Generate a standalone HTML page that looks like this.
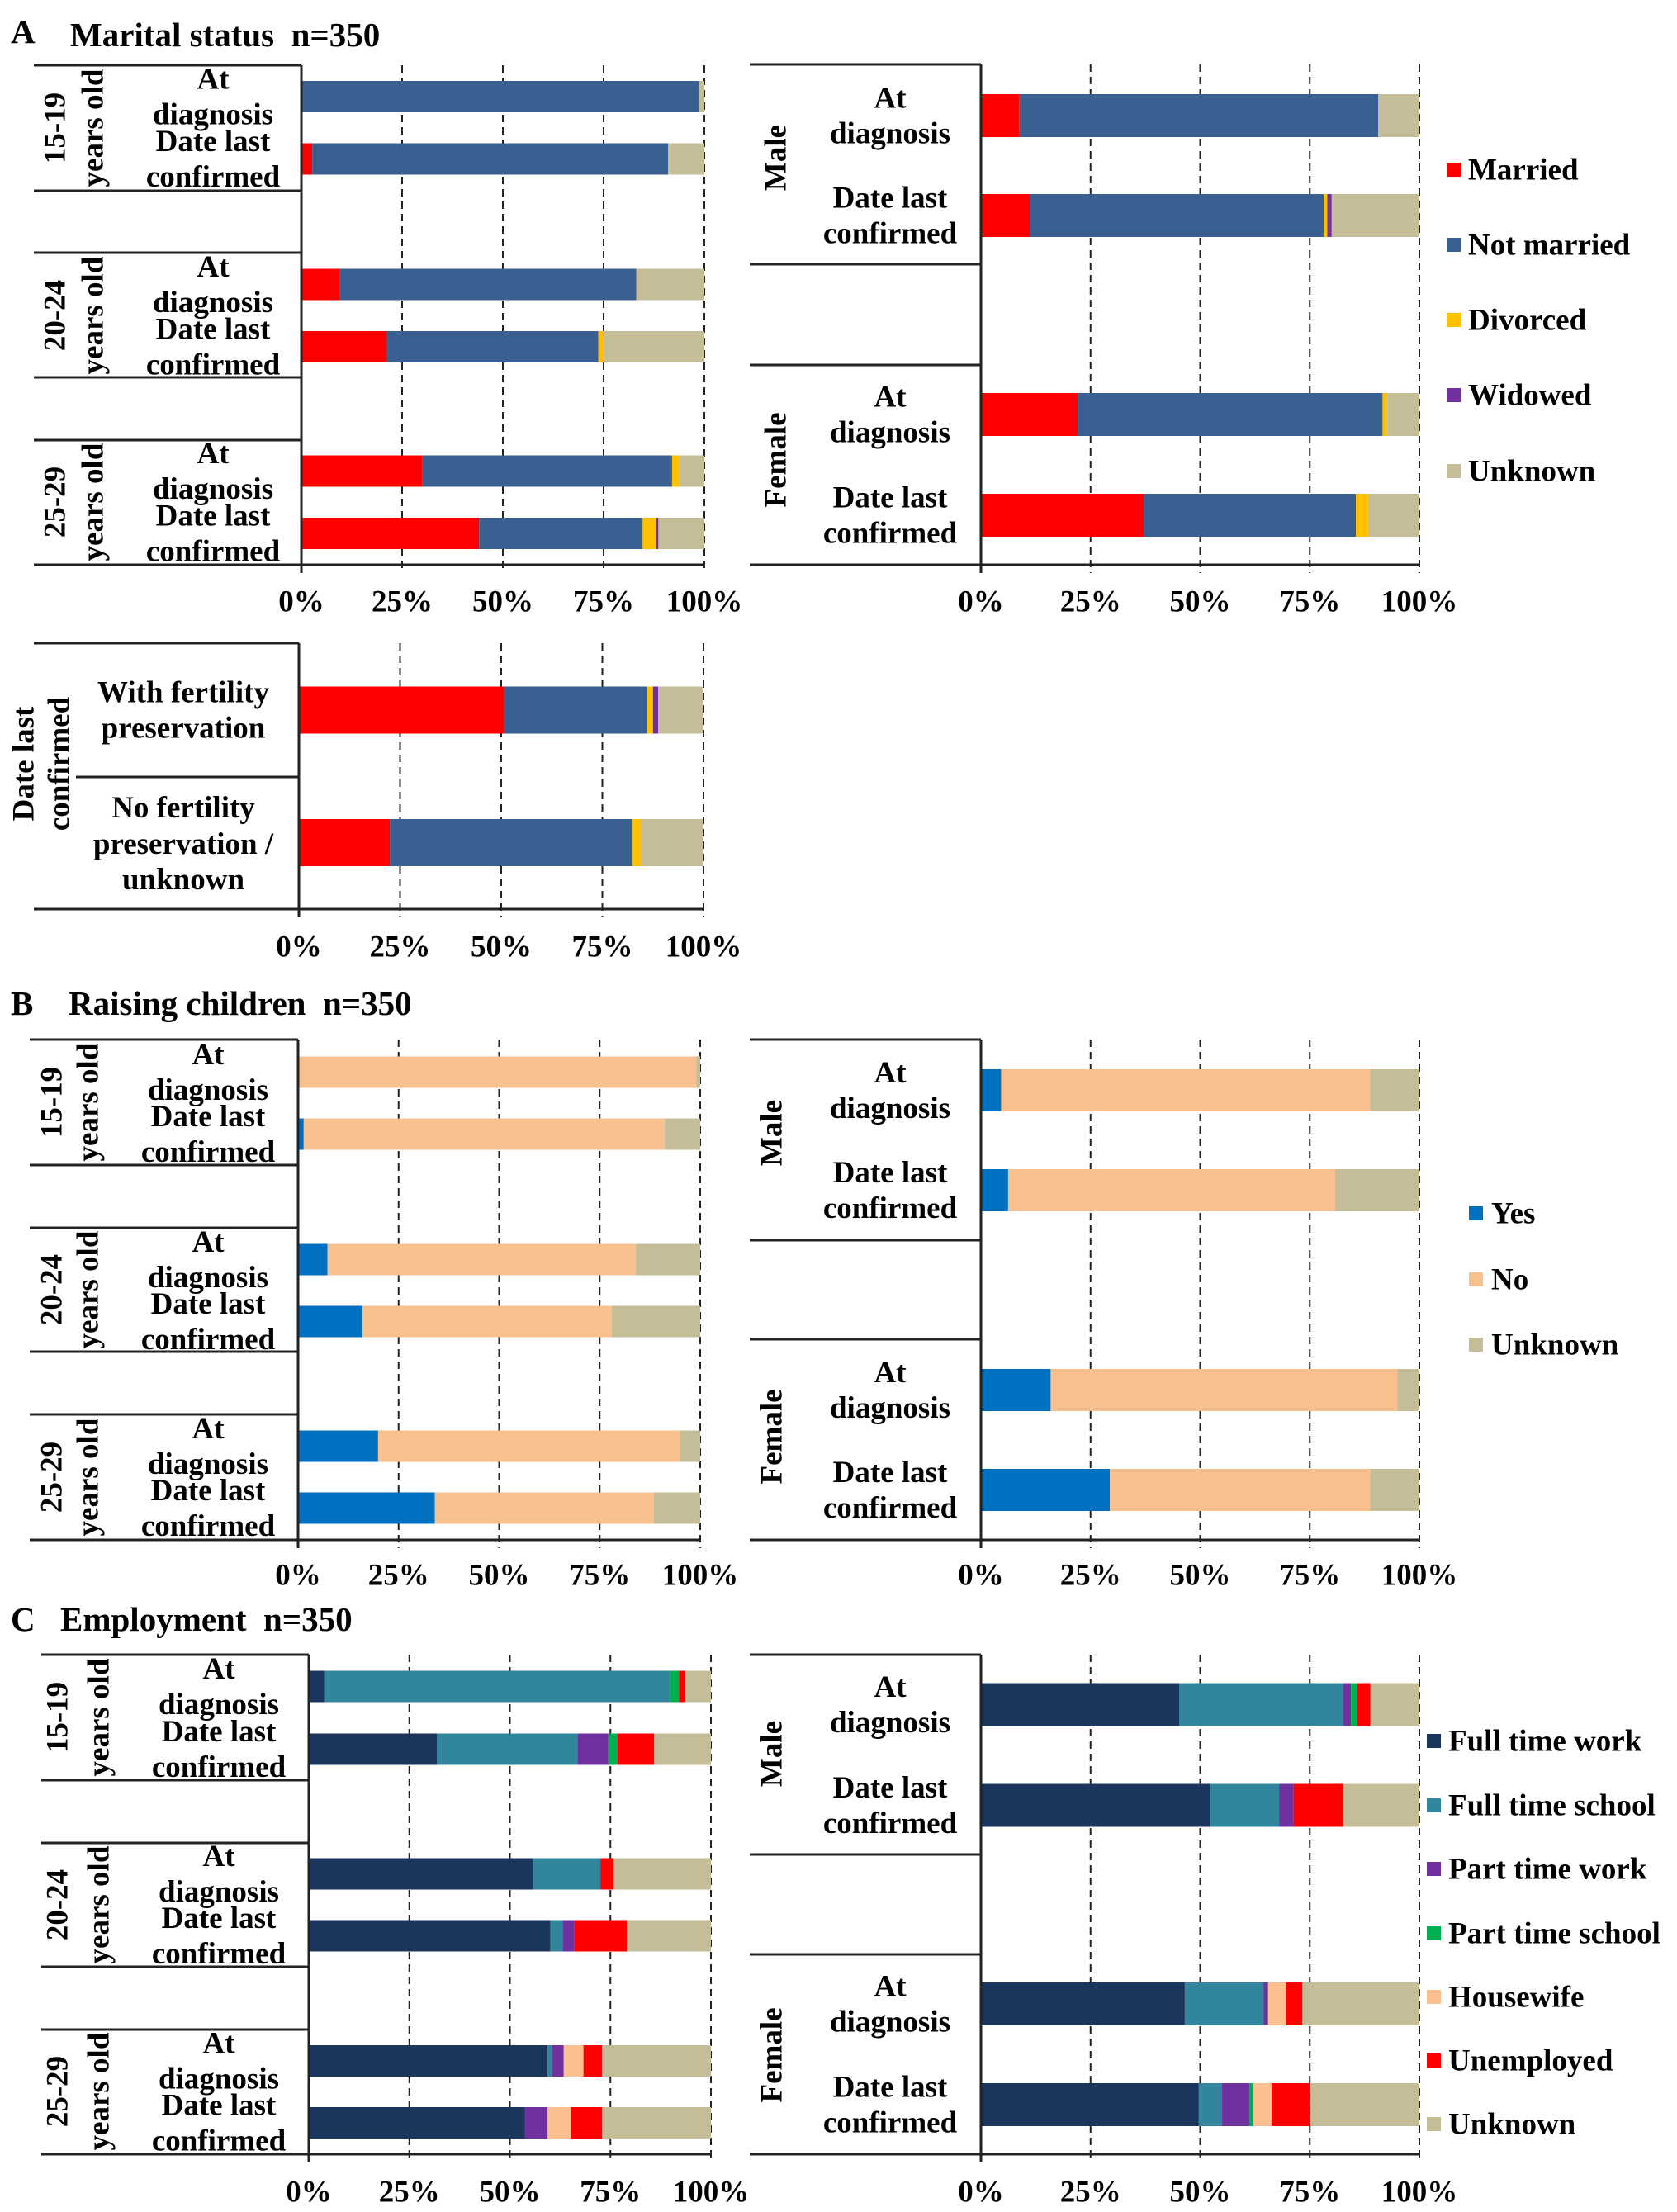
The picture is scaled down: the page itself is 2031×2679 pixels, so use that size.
<!DOCTYPE html>
<html><head><meta charset="utf-8">
<style>
html,body{margin:0;padding:0;background:#fff;}
svg{display:block;font-family:"Liberation Serif",serif;font-weight:bold;}
</style></head>
<body>
<svg id="fig" width="2031" height="2679" viewBox="0 0 2031 2679" xmlns="http://www.w3.org/2000/svg">
<rect x="0" y="0" width="2031" height="2679" fill="#fff"/>
<g font-size="41" fill="#000">
<text x="13" y="52">A</text>
<text x="85" y="56" xml:space="preserve">Marital status  n=350</text>
<text x="13" y="1229">B</text>
<text x="83" y="1229" xml:space="preserve">Raising children  n=350</text>
<text x="13" y="1975">C</text>
<text x="73" y="1975" xml:space="preserve">Employment  n=350</text>
</g>
</svg>
<script>
// ---------- data ----------
const maritalCats = ['Married','Not married','Divorced','Widowed','Unknown'];
const maritalColors = ['#FF0000','#3A5F91','#FFC000','#7030A0','#C4BD97'];
const childCats = ['Yes','No','Unknown'];
const childColors = ['#0070C0','#F9C08F','#C4BD97'];
const empCats = ['Full time work','Full time school','Part time work','Part time school','Housewife','Unemployed','Unknown'];
const empColors = ['#1B365D','#31859C','#7030A0','#00B050','#FAC090','#FF0000','#C4BD97'];
const tickLabels = ['0%','25%','50%','75%','100%'];
const tickValues = [0,25,50,75,100];

const maritalAge = [
  [0,98.7,0,0,1.3],[2.7,88.3,0,0,9],
  [9.6,73.5,0,0,16.9],[21.2,52.5,1.3,0,25],
  [30,62,1.8,0,6.2],[44.1,40.6,3.4,0.5,11.4]];
const maritalSex = [
  [8.8,81.8,0,0,9.4],[11.3,66.9,0.8,1,20],
  [22.2,69.4,1.1,0,7.3],[37.2,48.3,2.8,0,11.7]];
const maritalFert = [
  [50.7,35.3,1.5,1.3,11.2],[22.5,60,2.1,0,15.4]];
const childAge = [
  [0,99,1],[1.4,89.7,8.9],
  [7.3,76.7,16],[16,62,22],
  [19.9,75.1,5],[34,54.5,11.5]];
const childSex = [
  [4.6,84.2,11.2],[6.2,74.6,19.2],
  [15.9,79.1,5],[29.4,59.4,11.2]];
const empAge = [
  [3.8,86.1,0,2.2,0,1.5,6.4],[31.9,34.9,7.7,2.3,0,9.1,14.1],
  [55.8,16.7,0,0,0,3.3,24.2],[60.1,3,3,0,0,13,20.9],
  [59.4,1.1,2.9,0,4.9,4.6,27.1],[53.7,0,5.7,0,5.7,7.8,27.1]];
const empSex = [
  [45.2,37.4,1.8,1.4,0,3,11.2],[52.2,15.8,3.3,0,0,11.3,17.4],
  [46.5,18,1,0,4,3.8,26.7],[49.7,5.3,6.2,0.8,4.3,8.8,24.9]];

// ---------- layout ----------
const NS='http://www.w3.org/2000/svg';
const svg=document.getElementById('fig');
function el(tag,attrs,parent){const e=document.createElementNS(NS,tag);for(const k in attrs)e.setAttribute(k,attrs[k]);(parent||svg).appendChild(e);return e;}
function txt(s,x,y,attrs,parent){const t=el('text',Object.assign({x:x,y:y,'font-size':37,'text-anchor':'middle','dominant-baseline':'central'},attrs||{}),parent);t.textContent=s;return t;}

const ageRowLabels=[['At','diagnosis'],['Date last','confirmed']];
const sideRowLabels=[['At','diagnosis'],['Date last','confirmed']];

function panel(p){
  const g=el('g',{});
  
  
  const xs=v=>p.x0+(p.x1-p.x0)*v/100;
  tickValues.forEach((v,i)=>{
    if(v===0)return;
    const l=el('line',{x1:xs(v),x2:xs(v),y1:p.top,y2:p.bottom+10,stroke:'#222','stroke-width':2,'stroke-dasharray':'9,6'},g);
    
    
  });
  p.data.forEach((row,i)=>{
    let acc=0;const yc=p.centers[i];
    row.forEach((v,j)=>{
      if(v>0){
        const r=el('rect',{x:xs(acc),y:yc-p.bh/2,width:xs(acc+v)-xs(acc),height:p.bh,fill:p.colors[j]},g);
        
        
      }
      acc+=v;
    });
    const lab=p.rowLabels[i%2];
    if(lab.length===3){
      txt(lab[0],p.labX,yc-42,{},g);
      txt(lab[1],p.labX,yc+2,{},g);
      txt(lab[2],p.labX,yc+45,{},g);
    } else {
      txt(lab[0],p.labX,yc-21,{},g);
      txt(lab[1],p.labX,yc+22,{},g);
    }
  });
  el('line',{x1:p.x0,x2:p.x0,y1:p.top,y2:p.bottom+10,stroke:'#222','stroke-width':3},g);
  p.hlines.forEach(h=>el('line',{x1:h[1],x2:h[2]||p.x0,y1:h[0],y2:h[0],stroke:'#222','stroke-width':3},g));
  el('line',{x1:p.left,x2:p.x1,y1:p.bottom,y2:p.bottom,stroke:'#222','stroke-width':3},g);
  p.groups.forEach(gr=>{
    const yc=gr.y;
    gr.lines.forEach((s,k)=>{
      const t=txt(s,gr.x[k],yc,{transform:'rotate(-90 '+gr.x[k]+' '+yc+')'},g);
      
      
    });
  });
  tickValues.forEach((v,i)=>{
    const t=txt(tickLabels[i],xs(v),p.tickY,{},g);
    
    
  });
  if(p.legend){
    p.cats.forEach((c,j)=>{
      const y=p.legend.ys[j];
      const r=el('rect',{x:p.legend.sx,y:y-9,width:17,height:17,fill:p.colors[j]},g);
      
      
      const t=txt(c,p.legend.tx,y,{'text-anchor':'start'},g);
      
      
    });
  }
}

panel({name:'marital-by-age-chart',x0:365,x1:853,left:41,top:79,bottom:684,bh:38,labX:258,tickY:729,
  centers:[117,192.5,344.5,420,570.5,646],data:maritalAge,cats:maritalCats,colors:maritalColors,rowLabels:ageRowLabels,
  hlines:[[79,41],[231,41],[306,41],[457,41],[533,41]],
  groups:[{y:155,x:[67,113],lines:['15-19','years old']},{y:382,x:[67,113],lines:['20-24','years old']},{y:608,x:[67,113],lines:['25-29','years old']}]});
panel({name:'marital-by-sex-chart',x0:1188,x1:1719,left:908,top:78,bottom:684,bh:52,labX:1078,tickY:729,
  centers:[140,261,502,624],data:maritalSex,cats:maritalCats,colors:maritalColors,rowLabels:sideRowLabels,
  hlines:[[78,908],[320,908],[442,908]],
  groups:[{y:191,x:[940],lines:['Male']},{y:557,x:[940],lines:['Female']}],
  legend:{sx:1752,tx:1778,ys:[206,297,388,479,571]}});
panel({name:'marital-by-fertility-chart',x0:362,x1:852,left:41,top:779,bottom:1101,bh:57,labX:222,tickY:1147,
  centers:[860,1020.5],data:maritalFert,cats:maritalCats,colors:maritalColors,
  rowLabels:[['With fertility','preservation'],['No fertility','preservation /','unknown']],
  hlines:[[779,41],[941,92]],
  groups:[{y:925,x:[29,72],lines:['Date last','confirmed']}]});
panel({name:'children-by-age-chart',x0:361,x1:848,left:36,top:1259,bottom:1865,bh:38,labX:252,tickY:1908,
  centers:[1298.5,1373.5,1525.5,1600.5,1751.5,1826.5],data:childAge,cats:childCats,colors:childColors,rowLabels:ageRowLabels,
  hlines:[[1259,36],[1411,36],[1487,36],[1637,36],[1713,36]],
  groups:[{y:1335,x:[63,107],lines:['15-19','years old']},{y:1562,x:[63,107],lines:['20-24','years old']},{y:1789,x:[63,107],lines:['25-29','years old']}]});
panel({name:'children-by-sex-chart',x0:1188,x1:1719,left:908,top:1259,bottom:1865,bh:51,labX:1078,tickY:1908,
  centers:[1320.5,1441.5,1683.5,1804.5],data:childSex,cats:childCats,colors:childColors,rowLabels:sideRowLabels,
  hlines:[[1259,908],[1502,908],[1622,908]],
  groups:[{y:1372,x:[935],lines:['Male']},{y:1740,x:[935],lines:['Female']}],
  legend:{sx:1779,tx:1806,ys:[1470,1550,1629]}});
panel({name:'employment-by-age-chart',x0:374,x1:861,left:50,top:2004,bottom:2609,bh:38,labX:265,tickY:2655,
  centers:[2042.5,2118.5,2269.5,2344.5,2496,2571],data:empAge,cats:empCats,colors:empColors,rowLabels:ageRowLabels,
  hlines:[[2004,50],[2156,50],[2232,50],[2382,50],[2458,50]],
  groups:[{y:2080,x:[70,120],lines:['15-19','years old']},{y:2307,x:[70,120],lines:['20-24','years old']},{y:2533,x:[70,120],lines:['25-29','years old']}]});
panel({name:'employment-by-sex-chart',x0:1188,x1:1719,left:908,top:2004,bottom:2609,bh:52,labX:1078,tickY:2655,
  centers:[2064.5,2186.5,2427,2549],data:empSex,cats:empCats,colors:empColors,rowLabels:sideRowLabels,
  hlines:[[2004,908],[2246,908],[2367,908]],
  groups:[{y:2124,x:[935],lines:['Male']},{y:2489,x:[935],lines:['Female']}],
  legend:{sx:1728,tx:1754,ys:[2109,2187,2264,2342,2419,2496,2573]}});
</script>
</body></html>
